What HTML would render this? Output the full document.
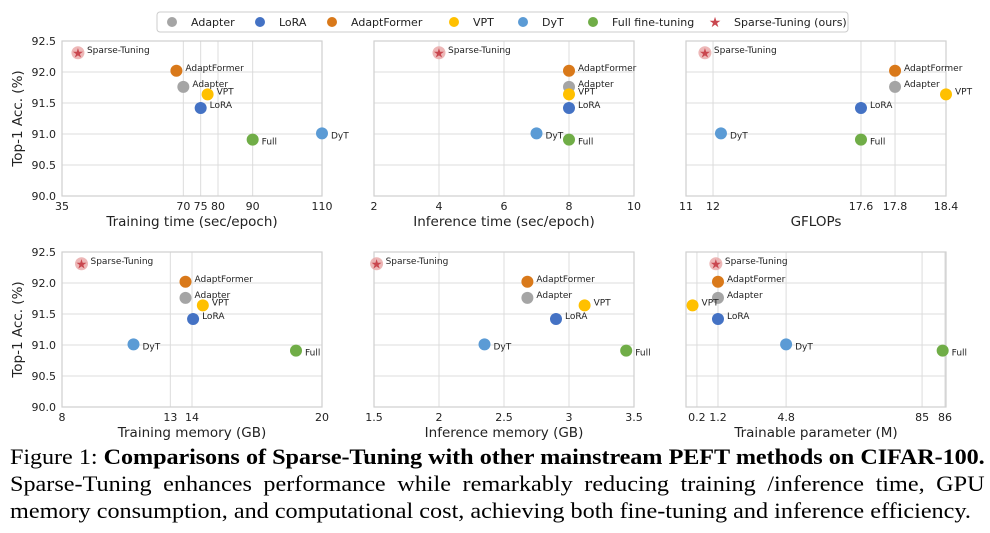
<!DOCTYPE html>
<html><head><meta charset="utf-8"><style>
body{margin:0;background:#fff;width:990px;height:533px;overflow:hidden;font-family:"DejaVu Sans","Liberation Sans",sans-serif}
#cap{position:absolute;left:10px;top:443px;width:886px;font-family:"Liberation Serif",serif;font-size:22px;line-height:27px;color:#000;transform:scaleX(1.10);transform-origin:0 0}
#cap div{text-align:justify;text-align-last:justify;white-space:nowrap}
#cap div.first{letter-spacing:-0.09px}
#cap div.last{text-align-last:left}
</style></head><body>
<svg id="chart" width="990" height="445" style="position:absolute;left:0;top:0"></svg>
<div id="cap"><div class="first">Figure 1: <b>Comparisons of Sparse-Tuning with other mainstream PEFT methods on CIFAR-100.</b></div><div>Sparse-Tuning enhances performance while remarkably reducing training /inference time, GPU</div><div class="last">memory consumption, and computational cost, achieving both fine-tuning and inference efficiency.</div></div>
<script>
const methods=["Adapter","LoRA","AdaptFormer","VPT","DyT","Full","Sparse-Tuning"];
const colors=["#a5a5a5","#4472c4","#d9791a","#ffc000","#5b9bd5","#70ad47","#e07a7a"];
const accuracy=[91.76,91.42,92.02,91.64,91.01,90.91,92.31];
const trainTime=[70,75,68,77,110,90,39.6];
const inferTime=[8,8,8,8,7,8,4];
const gflops=[17.8,17.6,17.8,18.4,12.3,17.6,11.7];
const trainMem=[13.7,14.05,13.7,14.5,11.3,18.8,8.9];
const inferMem=[2.68,2.9,2.68,3.12,2.35,3.44,1.52];
const params=[1.2,1.2,1.2,0.0,4.8,85.9,1.1];
const yTicks=[90.0,90.5,91.0,91.5,92.0,92.5];
const ticks1=[35,70,75,80,90,110], ticks2=[2,4,6,8,10], ticks3=[11,12,17.6,17.8,18.4];
const ticks4=[8,13,14,20], ticks5=[1.5,2,2.5,3,3.5], ticks6=[0.2,1.2,4.8,85,86];
const tickLabels3=["11","12","17.6","17.8","18.4"], tickLabels6=["0.2","1.2","4.8","85","86"];
const NS="http://www.w3.org/2000/svg",svg=document.getElementById('chart');
function el(t,a,p){const e=document.createElementNS(NS,t);for(const k in a)e.setAttribute(k,a[k]);(p||svg).appendChild(e);return e;}
const panels=[
{x:62,y:41,title:"Training time (sec/epoch)",data:trainTime,ticks:ticks1,bp:[[35,0],[110,1]],ylab:true},
{x:374,y:41,title:"Inference time (sec/epoch)",data:inferTime,ticks:ticks2,bp:[[2,0],[10,1]]},
{x:686,y:41,title:"GFLOPs",data:gflops,ticks:ticks3,labels:tickLabels3,bp:[[11,0],[12,0.104],[17.6,0.673],[17.8,0.804],[18.4,1]]},
{x:62,y:252,title:"Training memory (GB)",data:trainMem,ticks:ticks4,bp:[[8,0],[20,1]],ylab:true},
{x:374,y:252,title:"Inference memory (GB)",data:inferMem,ticks:ticks5,bp:[[1.5,0],[3.5,1]]},
{x:686,y:252,title:"Trainable parameter (M)",data:params,ticks:ticks6,labels:tickLabels6,bp:[[-0.3,0],[0.2,0.042],[1.2,0.123],[4.8,0.385],[85,0.908],[86,0.996]]}];
const W=260,H=155;
function scaleX(p,v){const b=p.bp;let i=0;while(i<b.length-2&&v>b[i+1][0])i++;const f=b[i][1]+(v-b[i][0])/(b[i+1][0]-b[i][0])*(b[i+1][1]-b[i][1]);return p.x+f*W;}
function scaleY(p,v){return p.y+H-(v-90)/2.5*H;}
panels.forEach((p,pi)=>{
 const g=el('g',{});
 
 
 yTicks.forEach(t=>{const yy=scaleY(p,t);el('line',{x1:p.x,x2:p.x+W,y1:yy,y2:yy,stroke:'#dcdcdc','stroke-width':1},g);
  if(p.ylab){const tx=el('text',{x:p.x-6,y:yy+4,'text-anchor':'end','font-size':11,fill:'#222'},g);tx.textContent=t.toFixed(1);}});
 p.ticks.forEach((t,i)=>{const xx=scaleX(p,t);el('line',{x1:xx,x2:xx,y1:p.y,y2:p.y+H,stroke:'#dcdcdc','stroke-width':1},g);
  const tx=el('text',{x:xx,y:p.y+H+14,'text-anchor':'middle','font-size':11,fill:'#222'},g);tx.textContent=p.labels?p.labels[i]:String(t);});
 el('rect',{x:p.x,y:p.y,width:W,height:H,fill:'none',stroke:'#cfcfcf','stroke-width':1.2},g);
 const tt=el('text',{x:p.x+W/2,y:p.y+H+30,'text-anchor':'middle','font-size':13.5,fill:'#222'},g);tt.textContent=p.title;
 
 if(p.ylab){const yt=el('text',{x:0,y:0,transform:`translate(${p.x-40},${p.y+H/2}) rotate(-90)`,'text-anchor':'middle','font-size':13.5,fill:'#222'},g);yt.textContent="Top-1 Acc. (%)";
  }
 p.data.forEach((v,i)=>{const cx=scaleX(p,v),cy=scaleY(p,accuracy[i]);
  let m;
  if(i===6){el('circle',{cx:cx,cy:cy,r:6.5,fill:'#e9a5a5',opacity:0.8},g);m=el('text',{x:cx,y:cy+4.5,'text-anchor':'middle','font-size':13,fill:'#c9474f'},g);m.textContent='★';}
  else m=el('circle',{cx:cx,cy:cy,r:6,fill:colors[i]},g);
  
  
  const lb=el('text',{x:cx+9,y:cy+(i===5||i===4?5:0),'font-size':9,fill:'#222'},g);lb.textContent=methods[i];
 });
});
const lg=el('g',{});


el('rect',{x:157,y:12,width:691,height:20,rx:3,fill:'#fff',stroke:'#ccc'},lg);
const legNames=["Adapter","LoRA","AdaptFormer","VPT","DyT","Full fine-tuning","Sparse-Tuning (ours)"];
const legX=[172,260,332,454,523,593,715];
legNames.forEach((n,i)=>{
 let m;
 if(i===6){m=el('text',{x:legX[i],y:27,'text-anchor':'middle','font-size':14,fill:'#c9474f'},lg);m.textContent='★';}
 else m=el('circle',{cx:legX[i],cy:22,r:5,fill:colors[i]},lg);
 
 
 const t=el('text',{x:legX[i]+19,y:26,'font-size':11,fill:'#222'},lg);t.textContent=n;
 
 
});
</script>
</body></html>
